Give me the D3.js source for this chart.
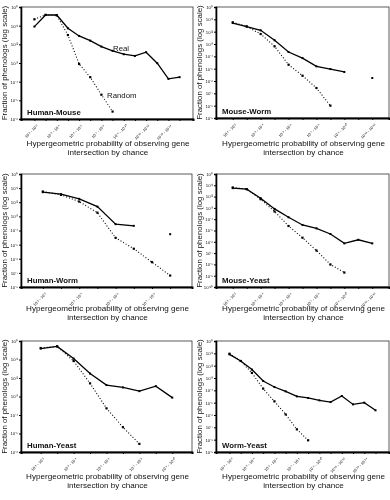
<!DOCTYPE html>
<html><head><meta charset="utf-8">
<script src="https://cdn.jsdelivr.net/npm/d3@7"></script>
<style>body{margin:0;background:#fff}svg{display:block;will-change:transform}text{font-family:"Liberation Sans",Arial,sans-serif;fill:#111}</style>
</head><body><svg id="c" width="390" height="500"></svg>
<script>
// ---- data (fractions of phenologs) ----
const sup = n => String(n).split("").map(c => ({"-":"⁻","0":"⁰","1":"¹","2":"²","3":"³","4":"⁴","5":"⁵","6":"⁶","7":"⁷","8":"⁸","9":"⁹"})[c]).join("");
const panelNames = ["Human-Mouse","Mouse-Worm","Human-Worm","Mouse-Yeast","Human-Yeast","Worm-Yeast"];
const yMinExp = [-6,-9,-8,-10,-6,-9];

const hmBins = ["10⁻¹ - 10⁻²","10⁻² - 10⁻³","10⁻³ - 10⁻⁴","10⁻⁴ - 10⁻⁵","10⁻⁵ - 10⁻⁶","10⁻⁶ - 10⁻⁷","10⁻⁷ - 10⁻⁸","10⁻⁸ - 10⁻⁹","10⁻⁹ - 10⁻¹⁰","10⁻¹⁰ - 10⁻¹¹","10⁻¹¹ - 10⁻¹²","10⁻¹² - 10⁻¹³","10⁻¹³ - 10⁻¹⁴","10⁻¹⁴ - 10⁻¹⁵"];
const hmReal = [0.0891,0.372,0.372,0.0724,0.0282,0.0158,0.00759,0.00447,0.00295,0.0024,0.0038,0.000977,0.000141,0.000174];
const hmRandom = [0.219,0.380,0.355,0.0316,0.000891,0.000174,2.0e-5,2.5e-6,null,null,null,null,null,null];

const mwBins = ["10⁻¹ - 10⁻²","10⁻² - 10⁻³","10⁻³ - 10⁻⁴","10⁻⁴ - 10⁻⁵","10⁻⁵ - 10⁻⁶","10⁻⁶ - 10⁻⁷","10⁻⁷ - 10⁻⁸","10⁻⁸ - 10⁻⁹","10⁻⁹ - 10⁻¹⁰","10⁻¹⁰ - 10⁻¹¹","10⁻¹¹ - 10⁻¹²"];
const mwReal = [0.050,0.0257,0.0129,0.0020,2.24e-4,7.2e-5,1.55e-5,9.3e-6,5.4e-6,null,1.74e-6];
const mwRandom = [0.0575,0.0269,0.00646,6.46e-4,2.09e-5,2.69e-6,2.69e-7,1.0e-8,null,null,null];

const hwBins = ["10⁻¹ - 10⁻²","10⁻² - 10⁻³","10⁻³ - 10⁻⁴","10⁻⁴ - 10⁻⁵","10⁻⁵ - 10⁻⁶","10⁻⁶ - 10⁻⁷","10⁻⁷ - 10⁻⁸","10⁻⁸ - 10⁻⁹"];
const hwReal = [0.0513,0.0372,0.0174,0.0049,2.82e-4,2.14e-4,null,5.5e-5];
const hwRandom = [0.0575,0.0331,0.0112,0.00182,3.02e-5,5.13e-6,5.75e-7,6.46e-8];

const myBins = ["10⁻¹ - 10⁻²","10⁻² - 10⁻³","10⁻³ - 10⁻⁴","10⁻⁴ - 10⁻⁵","10⁻⁵ - 10⁻⁶","10⁻⁶ - 10⁻⁷","10⁻⁷ - 10⁻⁸","10⁻⁸ - 10⁻⁹","10⁻⁹ - 10⁻¹⁰","10⁻¹⁰ - 10⁻¹¹","10⁻¹¹ - 10⁻¹²"];
const myReal = [0.0562,0.0457,0.00724,8.13e-4,1.48e-4,3.09e-5,1.55e-5,4.9e-6,7.24e-7,1.51e-6,7.24e-7];
const myRandom = [0.0646,0.0457,0.00589,4.79e-4,2.51e-5,2.29e-6,1.70e-7,9.8e-9,1.9e-9,null,null];

const hyBins = ["10⁻¹ - 10⁻²","10⁻² - 10⁻³","10⁻³ - 10⁻⁴","10⁻⁴ - 10⁻⁵","10⁻⁵ - 10⁻⁶","10⁻⁶ - 10⁻⁷","10⁻⁷ - 10⁻⁸","10⁻⁸ - 10⁻⁹","10⁻⁹ - 10⁻¹⁰"];
const hyReal = [0.389,0.513,0.112,0.0174,0.00417,0.00309,0.00195,0.00363,8.7e-4];
const hyRandom = [0.417,0.513,0.0832,0.00513,2.29e-4,2.19e-5,2.75e-6,null,null];

const wyBins = ["10⁻¹ - 10⁻²","10⁻² - 10⁻³","10⁻³ - 10⁻⁴","10⁻⁴ - 10⁻⁵","10⁻⁵ - 10⁻⁶","10⁻⁶ - 10⁻⁷","10⁻⁷ - 10⁻⁸","10⁻⁸ - 10⁻⁹","10⁻⁹ - 10⁻¹⁰","10⁻¹⁰ - 10⁻¹¹","10⁻¹¹ - 10⁻¹²","10⁻¹² - 10⁻¹³","10⁻¹³ - 10⁻¹⁴","10⁻¹⁴ - 10⁻¹⁵"];
const wyReal = [0.0832,0.024,0.00479,5.75e-4,1.86e-4,8.3e-5,3.24e-5,2.4e-5,1.55e-5,1.12e-5,3.47e-5,7.24e-6,1.0e-5,2.4e-6];
const wyRandom = [0.0933,0.024,0.00257,1.38e-4,1.29e-5,1.12e-6,6.9e-8,8.9e-9,null,null,null,null,null,null];

const binsList = [hmBins,mwBins,hwBins,myBins,hyBins,wyBins];
const realList = [hmReal,mwReal,hwReal,myReal,hyReal,wyReal];
const randomList = [hmRandom,mwRandom,hwRandom,myRandom,hyRandom,wyRandom];

// ---- layout ----
const boxes = [
  {x0:21,x1:193,y0:7,y1:119,t:146},
  {x0:216,x1:389,y0:7,y1:118,t:146},
  {x0:21,x1:192,y0:174,y1:287,t:311},
  {x0:216,x1:389,y0:174,y1:287,t:311},
  {x0:21,x1:192,y0:341,y1:452,t:479},
  {x0:216,x1:389,y0:341,y1:452,t:479}
];
const svg = d3.select("#c");

boxes.forEach((b,i)=>{
  const bins = binsList[i], real = realList[i], rnd = randomList[i];
  const x = d3.scalePoint().domain(bins).range([b.x0,b.x1]).padding(1.2);
  const y = d3.scaleLog().domain([Math.pow(10,yMinExp[i]),1]).range([b.y1,b.y0]);
  const g = svg.append("g");
  // frame
  g.append("rect").attr("x",b.x0).attr("y",b.y0).attr("width",b.x1-b.x0).attr("height",b.y1-b.y0)
    .attr("fill","none").attr("stroke","#333").attr("stroke-width",0.8);
  // y axis
  const yTicks = d3.range(yMinExp[i],1).map(e=>Math.pow(10,e));
  const ya = g.append("g").attr("transform",`translate(${b.x0},0)`)
    .call(d3.axisLeft(y).tickValues(yTicks).tickSize(2).tickPadding(1)
      .tickFormat(d=>{const e=Math.round(Math.log10(d)); return e===0?"10⁰":"10"+sup(e);}));
  ya.select(".domain").attr("stroke","#000").attr("stroke-width",1.6);
  ya.selectAll("text").style("font-size","4.3px");
  // x axis
  const xa = g.append("g").attr("transform",`translate(0,${b.y1})`)
    .call(d3.axisBottom(x).tickSize(2).tickFormat((d,k)=>k%2===0?d:""));
  xa.select(".domain").attr("stroke","#000").attr("stroke-width",2);
  xa.selectAll("text").style("font-size","3.9px").attr("text-anchor","end")
    .attr("transform","translate(-1,3) rotate(-45)").attr("dy","0.3em");
  // lines
  const pts = arr => arr.map((v,k)=>({c:bins[k],v}));
  const line = d3.line().defined(d=>d.v!=null).x(d=>x(d.c)).y(d=>y(d.v));
  g.append("path").attr("d",line(pts(rnd))).attr("fill","none").attr("stroke","#000")
    .attr("stroke-width",1.1).attr("stroke-dasharray","1,2");
  g.append("path").attr("d",line(pts(real))).attr("fill","none").attr("stroke","#000")
    .attr("stroke-width",1.3);
  g.selectAll(".rm").data(pts(rnd).filter(d=>d.v!=null)).enter().append("rect")
    .attr("x",d=>x(d.c)-1.1).attr("y",d=>y(d.v)-1.1).attr("width",2.2).attr("height",2.2).attr("fill","#000");
  g.selectAll(".re").data(pts(real).filter(d=>d.v!=null)).enter().append("rect")
    .attr("x",d=>x(d.c)-1).attr("y",d=>y(d.v)-1).attr("width",2).attr("height",2).attr("fill","#000");
  // panel name
  g.append("text").attr("x",b.x0+6).attr("y",b.y1-4).style("font-size","7.8px").style("font-weight","600")
    .text(panelNames[i]);
  // axis titles
  const cx = (b.x0+b.x1)/2 + 1;
  g.append("text").attr("x",cx).attr("y",b.t).attr("text-anchor","middle").style("font-size","8.1px")
    .text("Hypergeometric probability of observing gene");
  g.append("text").attr("x",cx).attr("y",b.t+8.5).attr("text-anchor","middle").style("font-size","8.1px")
    .text("intersection by chance");
  g.append("text").attr("transform",`translate(${b.x0-14},${(b.y0+b.y1)/2}) rotate(-90)`)
    .attr("text-anchor","middle").style("font-size","7.9px").text("Fraction of phenologs (log scale)");
  if(i===0){
    g.append("text").attr("x",113).attr("y",51).style("font-size","7.8px").text("Real");
    g.append("text").attr("x",107).attr("y",98).style("font-size","7.8px").text("Random");
  }
});
</script></body></html>
